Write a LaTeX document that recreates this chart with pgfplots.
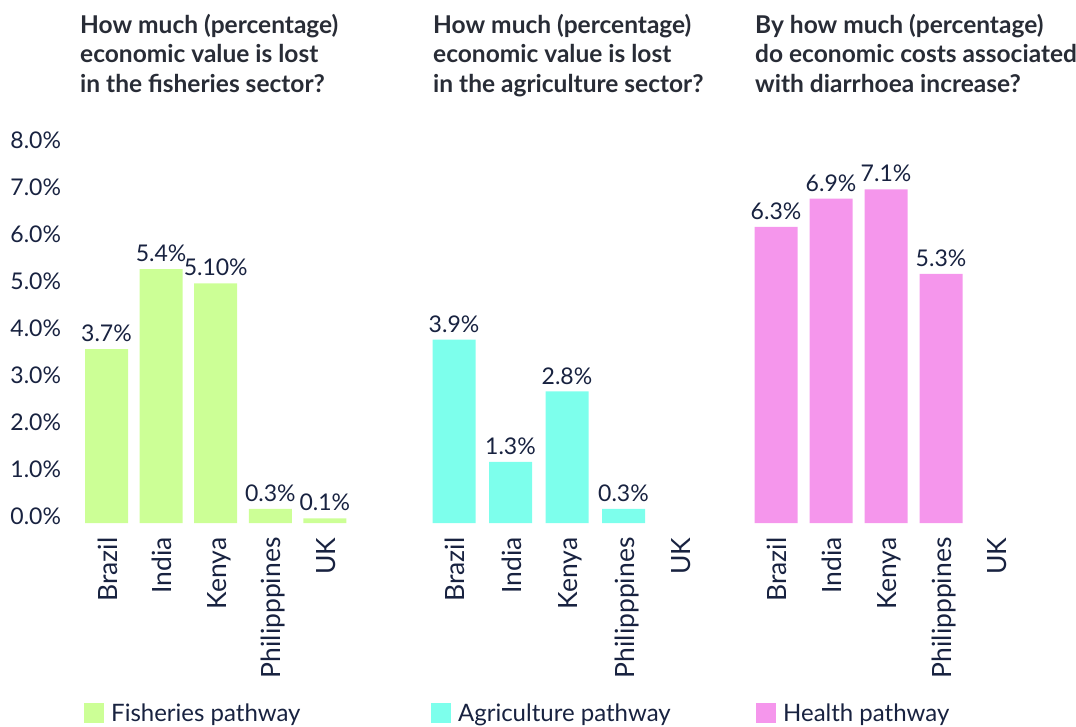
\documentclass[border=0pt]{standalone}
\usepackage{pgfplots}
\pgfplotsset{compat=1.18}
\usepackage{fontspec}
\setmainfont{Lato}
\definecolor{fish}{RGB}{204,255,150}
\definecolor{agri}{RGB}{125,255,236}
\definecolor{heal}{RGB}{245,150,236}
\definecolor{navy}{RGB}{24,34,64}
\definecolor{ttl}{RGB}{40,44,54}
\pgfplotsset{
  panel/.style={
    scale only axis,
    height=376pt,
    ymin=0, ymax=8,
    xmin=-0.5, xmax=4.5,
    ybar, bar width=43pt,
    axis line style={draw=none},
    tick style={draw=none},
    xtick={0,1,2,3,4},
    xticklabels={Brazil,India,Kenya,Philipppines,UK},
    xticklabel style={rotate=90, anchor=east, inner sep=0pt, xshift=-10pt, yshift=-8pt,
      text height=0.72em, text depth=0.2em, font=\fontsize{26.5}{30}\selectfont, text=navy},
    ytick={0,1,2,3,4,5,6,7,8},
    point meta=explicit symbolic,
    nodes near coords={\pgfplotspointmeta},
    nodes near coords style={anchor=south, inner sep=0pt, yshift=7pt,
      font=\fontsize{23}{27}\selectfont, text=navy},
    title style={anchor=north west, align=left, inner sep=0pt,
      font=\fontsize{24.5}{29.5}\selectfont\bfseries, text=ttl},
    legend style={draw=none, fill=none, inner sep=0pt, anchor=south west,
      font=\fontsize{24}{28}\selectfont, text=navy},
    legend image code/.code={\fill[##1] (0pt,-10pt) rectangle (20pt,10pt); \path (25pt,0pt);},
  }
}
\begin{document}
\begin{tikzpicture}
\useasboundingbox (0,0) rectangle (1076pt,726pt);
% Panel 1
\begin{axis}[panel, at={(79.2pt,203pt)}, anchor=south west, width=273pt,
  yticklabels={0.0\%,1.0\%,2.0\%,3.0\%,4.0\%,5.0\%,6.0\%,7.0\%,8.0\%},
  yticklabel style={anchor=east, inner sep=0pt, xshift=-18pt, yshift=7pt,
    font=\fontsize{23}{27}\selectfont, text=navy},
  title={How much (percentage)\\economic value is lost\\in the fisheries sector?},
  title style={at={(0.003,1.338)}},
  legend style={at={(0.0176,-0.537)}},
]
\addplot[fill=fish, draw=none] coordinates {
  (0,3.7) [3.7\%]
  (1,5.4) [5.4\%]
  (2,5.1) [5.10\%]
  (3,0.3) [0.3\%]
  (4,0.1) [0.1\%]
};
\addlegendentry{Fisheries pathway}
\end{axis}
% Panel 2
\begin{axis}[panel, at={(425.75pt,203pt)}, anchor=south west, width=282.5pt,
  yticklabels={},
  title={How much (percentage)\\economic value is lost\\in the agriculture sector?},
  title style={at={(0.0257,1.338)}},
  legend style={at={(0.018,-0.537)}},
]
\addplot[fill=agri, draw=none] coordinates {
  (0,3.9) [3.9\%]
  (1,1.3) [1.3\%]
  (2,2.8) [2.8\%]
  (3,0.3) [0.3\%]
};
\addlegendentry{Agriculture pathway}
\end{axis}
% Panel 3
\begin{axis}[panel, at={(748.5pt,203pt)}, anchor=south west, width=275pt,
  yticklabels={},
  title={By how much (percentage)\\do economic costs associated\\with diarrhoea increase?},
  title style={at={(0.0236,1.338)}},
  legend style={at={(0.027,-0.537)}},
]
\addplot[fill=heal, draw=none] coordinates {
  (0,6.3) [6.3\%]
  (1,6.9) [6.9\%]
  (2,7.1) [7.1\%]
  (3,5.3) [5.3\%]
};
\addlegendentry{Health pathway}
\end{axis}
\end{tikzpicture}
\end{document}
